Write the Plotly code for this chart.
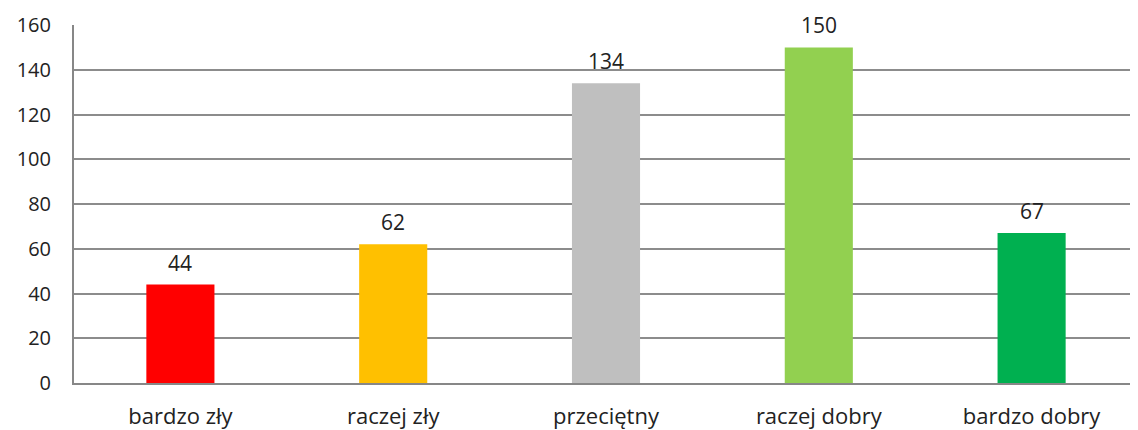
import plotly.graph_objects as go

categories = ["bardzo zły", "raczej zły", "przeciętny", "raczej dobry", "bardzo dobry"]
values = [44, 62, 134, 150, 67]
colors = ["#FF0000", "#FFC000", "#BFBFBF", "#92D050", "#00B050"]
y_ticks = [0, 20, 40, 60, 80, 100, 120, 140, 160]

FONT = "Open Sans, Lato, sans-serif"

fig = go.Figure(go.Bar(
    x=categories, y=values,
    marker=dict(color=colors, line=dict(width=0)),
    width=0.32,
    hoverinfo="x+y",
))

for c, v in zip(categories, values):
    fig.add_annotation(
        x=c, y=v, text=str(v), showarrow=False,
        yanchor="bottom", yshift=6,
        font=dict(size=21, family=FONT, color="#222222"),
    )

# page body has an 8px default margin, so the figure is offset by 8px
fig.update_layout(
    width=1130, height=422,
    margin=dict(l=66, r=0, t=17, b=47),
    paper_bgcolor="white", plot_bgcolor="white",
    showlegend=False,
    font=dict(family=FONT, color="#222222"),
)
fig.update_xaxes(
    showgrid=False, showline=True, linecolor="#878787", linewidth=2,
    tickfont=dict(size=22, family=FONT, color="#222222"),
    ticklabelstandoff=13, automargin=False,
)
fig.update_yaxes(
    range=[0, 160], tickvals=y_ticks, ticktext=[str(t) for t in y_ticks],
    showgrid=True, gridcolor="#8c8c8c", gridwidth=2,
    showline=True, linecolor="#878787", linewidth=2,
    zeroline=False,
    tickfont=dict(size=20, family=FONT, color="#222222"),
    ticklabelstandoff=17, automargin=False,
)

fig.write_html("out.html")
